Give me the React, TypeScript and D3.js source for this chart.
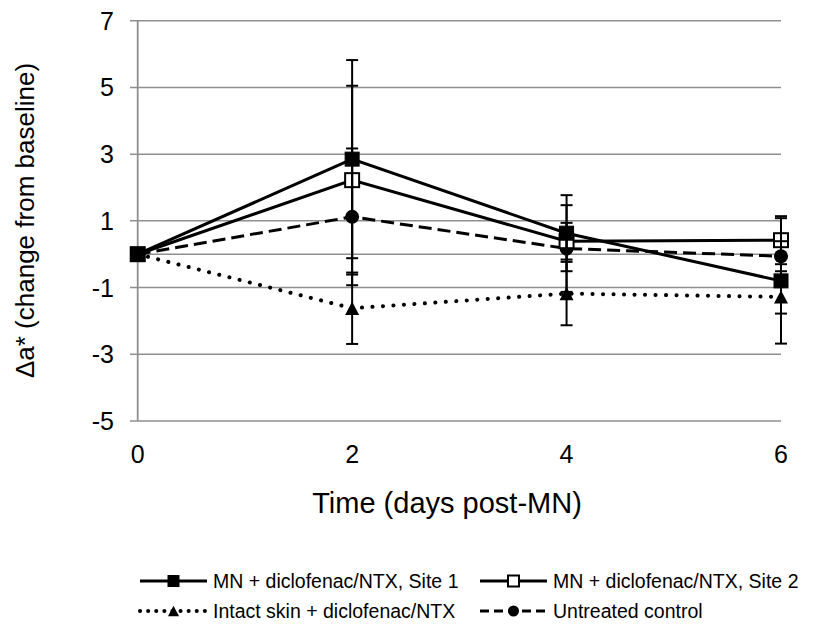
import React, { useEffect, useRef } from 'react';
import * as d3 from 'd3';

// days post-MN
const days = [0, 2, 4, 6];

// mean change in a* per series
const site1 = [0, 2.85, 0.63, -0.8];
const site2 = [0, 2.22, 0.39, 0.42];
const intact = [0, -1.62, -1.18, -1.28];
const untreated = [0, 1.12, 0.17, -0.06];

// error bar half-lengths (same order)
const site1Err = [0, 2.97, 1.14, 1.88];
const site2Err = [0, 2.83, 0.55, 0.72];
const intactErr = [0, 1.07, 0.95, 0.5];
const untreatedErr = [0, 2.05, 1.3, 0.45];

const yTicks = [7, 5, 3, 1, -1, -3, -5];
const xTicks = [0, 2, 4, 6];

const seriesNames = [
    'MN + diclofenac/NTX, Site 1',
    'MN + diclofenac/NTX, Site 2',
    'Intact skin + diclofenac/NTX',
    'Untreated control',
];

const FONT = '"Liberation Sans", Arial, sans-serif';

type Marker = 'square' | 'openSquare' | 'triangle' | 'circle';

function drawMarker(g: any, kind: Marker, cx: number, cy: number, s: number) {
    if (kind === 'square' || kind === 'openSquare') {
        g.append('rect')
            .attr('x', cx - s / 2)
            .attr('y', cy - s / 2)
            .attr('width', s)
            .attr('height', s)
            .attr('fill', kind === 'square' ? '#000' : '#fff')
            .attr('stroke', '#000')
            .attr('stroke-width', kind === 'square' ? 1 : 2);
    } else if (kind === 'circle') {
        g.append('circle')
            .attr('cx', cx)
            .attr('cy', cy)
            .attr('r', s / 2)
            .attr('fill', '#000');
    } else {
        const h = s * 0.95;
        g.append('path')
            .attr('d', `M${cx},${cy - h / 2}L${cx + s / 2},${cy + h / 2}L${cx - s / 2},${cy + h / 2}Z`)
            .attr('fill', '#000');
    }
}

export default function App() {
    const ref = useRef<SVGSVGElement>(null);

    useEffect(() => {
        const svg = d3.select(ref.current);
        svg.selectAll('*').remove();

        const x = d3.scaleLinear().domain([0, 6]).range([137.7, 781]);
        const y = d3.scaleLinear().domain([-5, 7]).range([421, 20.7]);

        const series = [
            { vals: site1, err: site1Err, marker: 'square' as Marker, dash: null, cap: 'butt' },
            { vals: site2, err: site2Err, marker: 'openSquare' as Marker, dash: null, cap: 'butt' },
            { vals: intact, err: intactErr, marker: 'triangle' as Marker, dash: '0.1 10.4', cap: 'round' },
            { vals: untreated, err: untreatedErr, marker: 'circle' as Marker, dash: '13 6', cap: 'butt' },
        ];

        // gridlines + y ticks
        const grid = svg.append('g');
        yTicks.forEach((t) => {
            grid.append('line')
                .attr('x1', 130).attr('x2', x(6))
                .attr('y1', y(t)).attr('y2', y(t))
                .attr('stroke', '#8f8f8f').attr('stroke-width', 1.5);
        });
        // horizontal axis at 0
        grid.append('line')
            .attr('x1', x(0)).attr('x2', x(6))
            .attr('y1', y(0)).attr('y2', y(0))
            .attr('stroke', '#8f8f8f').attr('stroke-width', 1.5);
        // vertical axis
        grid.append('line')
            .attr('x1', x(0)).attr('x2', x(0))
            .attr('y1', y(7)).attr('y2', y(-5))
            .attr('stroke', '#8f8f8f').attr('stroke-width', 1.8);

        svg.append('g')
            .selectAll('text')
            .data(yTicks)
            .join('text')
                .attr('x', 114)
                .attr('y', (d) => y(d) + 9)
                .attr('text-anchor', 'end')
                .style('font-family', FONT)
                .style('font-size', '25px')
                .text((d) => d);

        svg.append('g')
            .selectAll('text')
            .data(xTicks)
            .join('text')
                .attr('x', (d) => x(d))
                .attr('y', 463)
                .attr('text-anchor', 'middle')
                .style('font-family', FONT)
                .style('font-size', '25px')
                .text((d) => d);

        svg.append('text')
            .attr('x', 447)
            .attr('y', 513)
            .attr('text-anchor', 'middle')
            .style('font-family', FONT)
            .style('font-size', '29px')
            .text('Time (days post-MN)');

        svg.append('text')
            .attr('transform', 'translate(34, 220.5) rotate(-90)')
            .attr('text-anchor', 'middle')
            .style('font-family', FONT)
            .style('font-size', '26px')
            .text('\u0394a* (change from baseline)');

        const line = d3.line<number>()
            .x((d, i) => x(days[i]))
            .y((d) => y(d));

        const plot = svg.append('g');

        series.forEach((s) => {
            plot.append('path')
                .attr('d', line(s.vals))
                .attr('fill', 'none')
                .attr('stroke', '#000')
                .attr('stroke-width', s.marker === 'triangle' ? 4 : 3)
                .attr('stroke-linecap', s.cap)
                .attr('stroke-dasharray', s.dash);
        });

        // markers: site 1 ends up on top, like the original
        series.slice().reverse().forEach((s) => {
            s.vals.forEach((v, i) => drawMarker(plot, s.marker, x(days[i]), y(v), 14));
        });

        // error bars
        series.forEach((s) => {
            s.vals.forEach((v, i) => {
                const e = s.err[i];
                if (e <= 0) return;
                const cx = x(days[i]);
                plot.append('line')
                    .attr('x1', cx).attr('x2', cx)
                    .attr('y1', y(v + e)).attr('y2', y(v - e))
                    .attr('stroke', '#000').attr('stroke-width', 2);
                [v + e, v - e].forEach((c) => {
                    plot.append('line')
                        .attr('x1', cx - 6).attr('x2', cx + 6)
                        .attr('y1', y(c)).attr('y2', y(c))
                        .attr('stroke', '#000').attr('stroke-width', 2);
                });
            });
        });

        // legend
        const legendPos = [
            { lx: 140, ty: 581 },
            { lx: 480, ty: 581 },
            { lx: 140, ty: 611 },
            { lx: 480, ty: 611 },
        ];
        const legend = svg.append('g');
        series.forEach((s, i) => {
            const p = legendPos[i];
            legend.append('line')
                .attr('x1', p.lx).attr('x2', p.lx + 67)
                .attr('y1', p.ty).attr('y2', p.ty)
                .attr('stroke', '#000')
                .attr('stroke-width', s.marker === 'triangle' ? 4 : 3)
                .attr('stroke-linecap', s.cap)
                .attr('stroke-dasharray', s.dash === '0.1 10.4' ? '0.1 8' : s.dash === '13 6' ? '9 5' : null);
            drawMarker(legend, s.marker, p.lx + 33.5, p.ty, 11);
            legend.append('text')
                .attr('x', p.lx + 73)
                .attr('y', p.ty + 7)
                .style('font-family', FONT)
                .style('font-size', '19.5px')
                .text(seriesNames[i]);
        });
    }, []);

    return (
        <svg ref={ref} width={833} height={636}
            style={{ position: 'absolute', left: 0, top: 0, background: '#fff' }}></svg>
    );
}
